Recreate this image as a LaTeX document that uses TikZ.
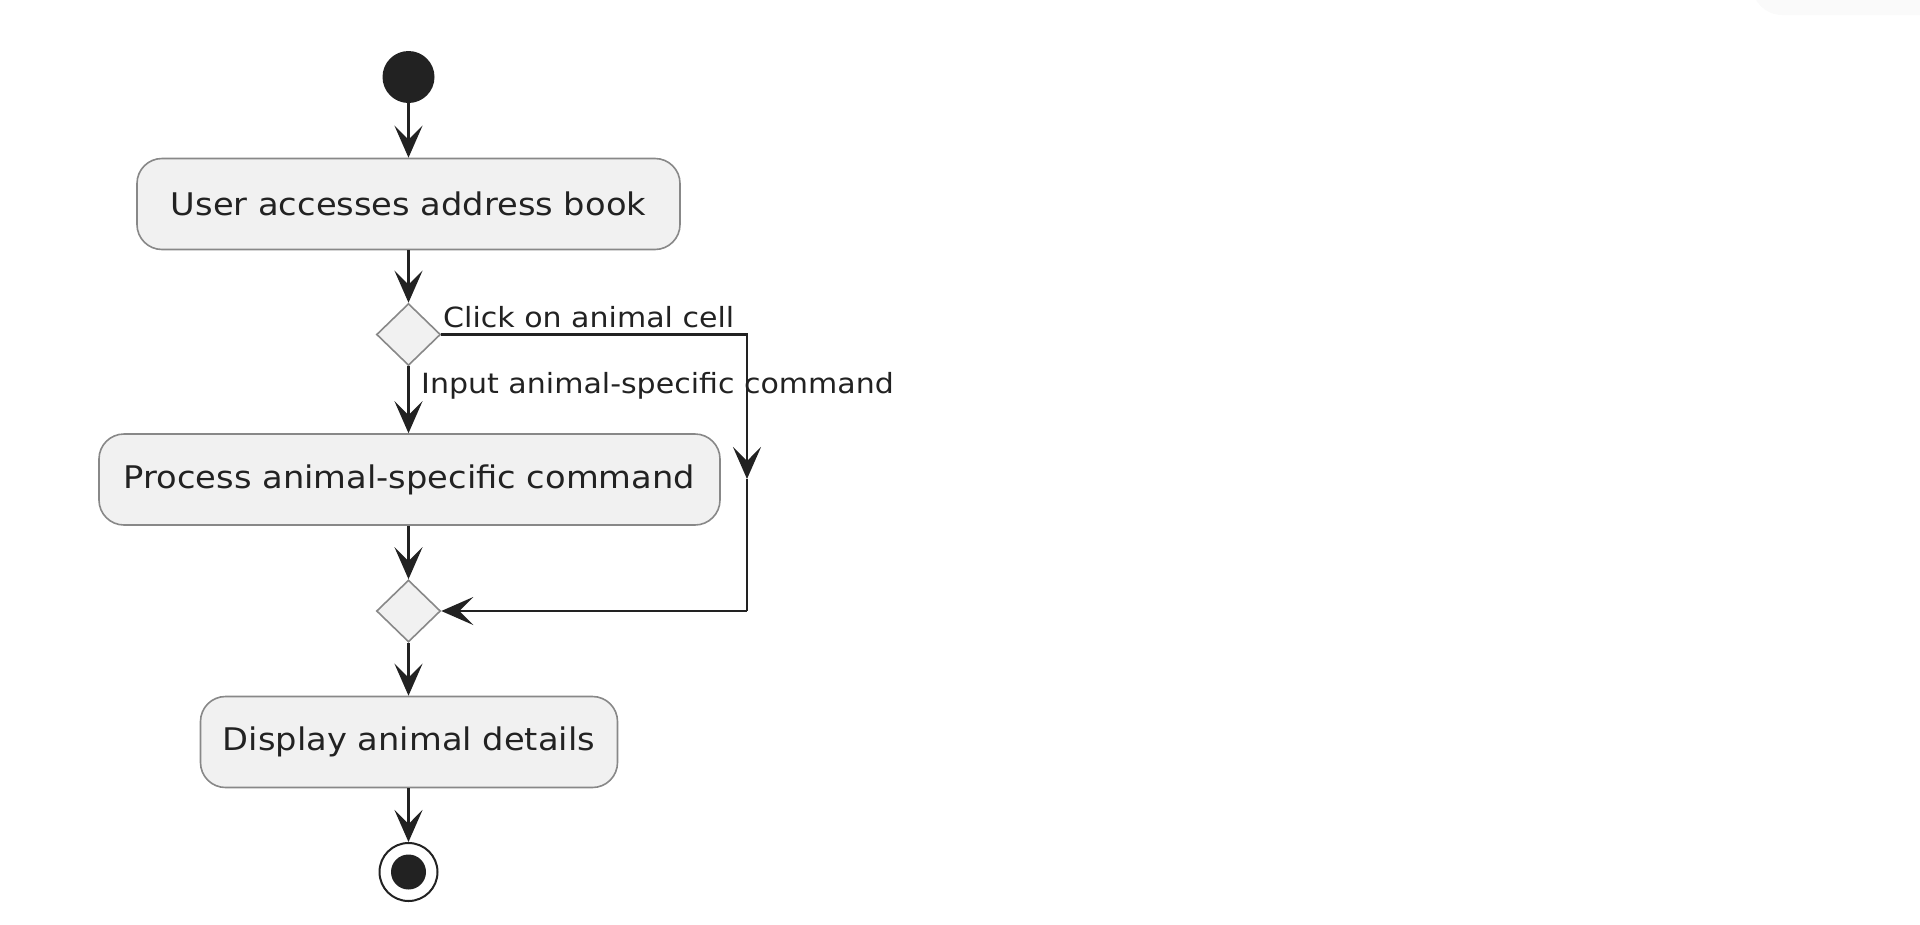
\documentclass[tikz,border=0pt]{standalone}
\usepackage{fontspec}
\setmainfont{DejaVu Sans}
\newfontfamily\dvs[FakeStretch=1.08]{DejaVu Sans}
\usetikzlibrary{shapes.geometric,arrows.meta}
\definecolor{boxfill}{HTML}{F1F1F1}
\definecolor{boxline}{HTML}{888888}
\definecolor{ink}{HTML}{222222}
\tikzset{
  act/.style={draw=boxline, line width=1.6pt, fill=boxfill, rounded corners=25pt,
    inner xsep=0pt, inner ysep=0pt, minimum height=91pt, text=ink,
    font=\dvs\fontsize{31.2}{38}\selectfont},
  dec/.style={diamond, draw=boxline, line width=1.6pt, fill=boxfill, inner sep=0pt,
    minimum width=64pt, minimum height=62pt},
  flow/.style={draw=ink, line width=2.6pt,
    -{Stealth[length=32pt,width=28pt,inset=14pt]}},
  seg/.style={draw=ink, line width=2.6pt},
  lbl/.style={text=ink, font=\dvs\fontsize{27.8}{33}\selectfont, inner sep=0pt},
}
\begin{document}
\begin{tikzpicture}[x=1pt,y=-1pt]
\useasboundingbox (0,0) rectangle (1920,924);
\begin{scope}
\clip (0,0) rectangle (1920,924);
\fill[gray!4, rounded corners=30pt] (1752,-40) rectangle (1960,15);
\end{scope}
\node[circle, fill=ink, inner sep=0pt, minimum size=52pt] (start) at (408.5,77) {};
\node[act, minimum width=543pt] (a1) at (408.5,204) {User accesses address book};
\node[dec] (d1) at (408.5,334.5) {};
\node[act, minimum width=621pt] (a2) at (409.5,479.5) {Process animal-specific command};
\node[dec] (d2) at (408.5,611) {};
\node[act, minimum width=417pt] (a3) at (409,742) {Display animal details};
\node[circle, draw=ink, line width=2pt, fill=white, inner sep=0pt, minimum size=58pt] (end) at (408.5,872) {};
\node[circle, fill=ink, inner sep=0pt, minimum size=35pt] (endin) at (end.center) {};
\coordinate (r1) at (747,334.5);
\coordinate (r2) at (747,479);
\coordinate (r3) at (747,611);
\draw[flow] (start) -- (a1.north -| start);
\draw[flow] (a1.south -| d1) -- (d1);
\draw[flow] (d1) -- (a2.north -| d1);
\draw[flow] (a2.south -| d2) -- (d2);
\draw[flow] (d2) -- (a3.north -| d2);
\draw[flow] (a3.south -| end) -- (end);
\draw[flow] (d1.east) -- (r1) -- (r2);
\draw[seg] (r2) -- (r3);
\draw[flow] (r3) -- (d2.east);
\node[lbl, anchor=base west] (l1) at (443,327) {Click on animal cell};
\node[lbl, anchor=base west] (l2) at (421,393) {Input animal-specific command};
\end{tikzpicture}
\end{document}
